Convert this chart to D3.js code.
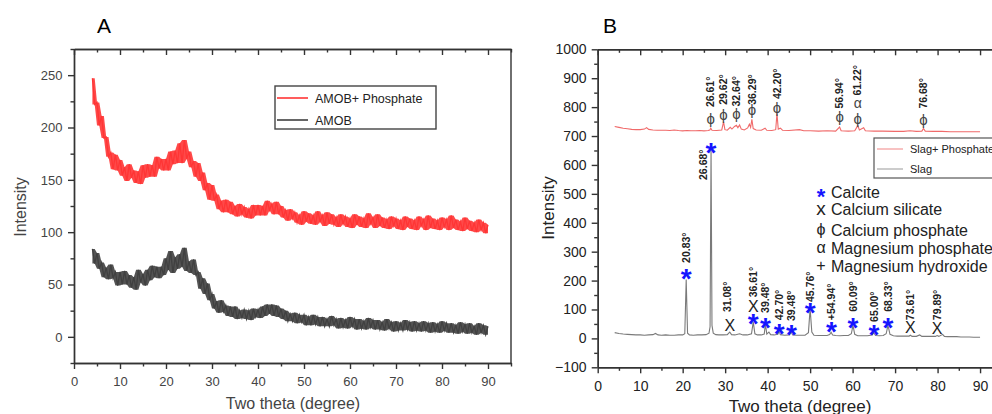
<!DOCTYPE html>
<html>
<head>
<meta charset="utf-8">
<script src="https://cdn.jsdelivr.net/npm/d3@7"></script>
<style>
  body { margin: 0; background: #fff; }
  text { font-family: "Liberation Sans", Arial, sans-serif; }
</style>
</head>
<body>
<div id="app"></div>
<script>
// ---- panel A : amorphous scans, 0.5 degree steps from 4 to 90 ----
const amobPhosphate = [
  247,222,224,202,211,190,191,172,176,160,174,159,169,154,162,149,165,152,159,147,
  158,146,164,152,165,153,164,153,172,161,170,159,170,159,177,165,178,166,185,166,
  188,170,177,162,168,153,166,149,157,140,147,131,145,130,136,122,130,119,131,119,
  129,117,125,115,127,117,124,114,122,113,126,116,126,116,125,116,130,121,127,117,
  129,117,125,114,121,111,122,113,119,109,116,107,120,110,118,108,116,107,120,110,
  116,106,119,108,117,107,114,105,117,108,115,105,113,104,117,107,115,105,113,104,
  118,108,114,104,117,106,114,104,112,103,115,106,113,103,111,102,115,105,113,103,
  111,102,115,106,112,102,116,104,113,103,111,102,114,105,112,102,116,104,112,102,
  110,101,114,103,111,101,109,100,112,102,109,99,107
];
const amob = [
  84,70,80,65,71,57,66,55,69,56,62,49,62,50,63,50,59,47,57,45,
  64,52,60,49,64,54,68,57,67,56,67,59,75,64,82,61,76,65,79,67,
  85,63,72,61,74,59,62,46,56,41,51,35,41,27,34,23,35,24,30,20,
  29,19,29,17,25,18,26,17,25,16,27,19,26,18,29,20,31,22,31,20,
  30,19,27,17,25,15,22,15,23,13,21,14,21,11,19,11,21,12,19,10,
  19,10,17,10,20,11,17,8,18,9,16,8,19,10,17,7,17,8,15,7,
  18,9,16,7,16,7,14,6,17,8,14,5,15,6,13,6,16,7,14,5,
  15,6,13,5,15,6,13,4,14,5,12,4,15,6,13,4,13,4,11,3,
  14,5,12,3,13,4,10,2,13,4,11,2,10
];
const thetaA = d3.range(4, 90.25, 0.5);

// ---- panel B : slag scans [two theta, intensity] ----
const slagScan = [[4,20],[5,17],[6,15],[7,14],[8,13],[9,12],[10,12],[11,11],[12,12],[13,13],[13.6,17],[14.2,12],[15,11],[16,12],[17,11],[18,11],[19,12],[20,12],[20.5,16],[20.83,204],[21.15,18],[21.6,12],[22.5,11],[23.5,12],[24.5,12],[25.5,13],[26.2,18],[26.45,40],[26.68,652],[26.9,45],[27.2,18],[27.8,13],[28.5,12],[29.5,12],[30.5,13],[31.08,22],[31.5,13],[32.3,12],[33.4,16],[34.2,12],[35.2,12],[36.2,16],[36.61,57],[37.0,16],[37.6,12],[38.5,12],[39.2,15],[39.48,50],[39.8,15],[40.3,22],[40.7,13],[41.5,12],[42.4,14],[42.7,26],[43.0,13],[44.0,11],[45.1,12],[45.5,23],[45.9,12],[46.8,11],[47.8,11],[48.8,11],[49.6,20],[50.0,103],[50.4,22],[50.9,11],[52,10],[53,10],[54,10],[54.6,13],[54.94,21],[55.3,12],[56,10],[57,9],[58,10],[59,10],[59.7,16],[60.09,45],[60.5,14],[61.2,9],[62.3,9],[63.5,9],[64.6,12],[65.0,20],[65.4,10],[66.3,9],[67.2,10],[67.9,16],[68.33,45],[68.8,14],[69.6,9],[70.5,8],[71.5,8],[72.5,8],[73.3,8],[73.61,11],[74.0,7],[75.0,7],[75.8,12],[76.3,7],[77.5,7],[78.5,7],[79.5,7],[79.89,10],[80.3,7],[81.2,14],[81.6,7],[82.3,6],[83.5,6],[84.5,6],[85.5,5],[86.5,5],[87.5,5],[88.5,4],[89.5,4],[90,4]];
const slagPhosphateScan = [[4,733],[5,730],[6,727],[7,725],[8,723],[9,722],[10,722],[11,724],[11.5,729],[12,723],[13,721],[14,720],[15,720],[16,720],[17,719],[18,721],[19,719],[20,718],[21,719],[22,718],[23,718],[24,719],[25,718],[26,719],[26.4,721],[26.61,727],[26.9,720],[28,719],[29.2,721],[29.62,749],[29.95,722],[30.5,720],[31.2,730],[31.6,724],[32.2,733],[32.64,737],[33.0,729],[33.4,738],[33.8,724],[34.5,721],[35.3,728],[35.7,741],[36.0,730],[36.29,758],[36.6,726],[37.3,721],[38.5,720],[39.4,727],[39.8,720],[41,719],[41.9,722],[42.2,778],[42.5,724],[43,727],[43.5,720],[45,719],[47.5,722],[48.5,718],[50,718],[52,717],[54,718],[56,717],[56.94,731],[57.3,718],[59,717],[60.5,718],[61.22,736],[61.6,721],[62.6,729],[63,718],[65,717],[67,717],[70,716],[72,716],[73.5,718],[75,716],[76.3,717],[76.68,726],[77.1,717],[79,716],[81,716],[83,715],[85,715],[87,715],[90,715]];

// peak annotations
const phosPeakTheta = [26.61, 29.62, 32.64, 36.29, 42.20, 56.94, 61.22, 76.68];
const phosPeakLabels = ["26.61°","29.62°","32.64°","36.29°","42.20°","56.94°","61.22°","76.68°"];
const phosMarkY = [761, 775, 778, 790, 799, 767, 761, 755];
const phosLabelY = [800, 808, 802, 808, 828, 795, 840, 795];
const slagPeakTheta = [20.83, 24.9, 30.6, 36.61, 39.48, 42.70, 45.6, 50.0, 55.0, 60.09, 65.0, 68.33, 73.61, 79.89];
const slagPeakLabels = ["20.83°","26.68°","31.08°","36.61°","39.48°","42.70°","39.48°","45.76°","+54.94°","60.09°","65.00°","68.33°","73.61°","79.89°"];
const slagLabelY = [261, 548, 91, 142, 88, 63, 60, 126, 63, 92, 57, 92, 63, 63];
const calciteTheta = [20.83, 26.68, 36.61, 39.48, 42.70, 45.6, 50.0, 55.0, 60.09, 65.0, 68.33];
const calciteY = [231, 666, 73, 61, 38, 35, 112, 46, 60, 37, 61];
const silicateTheta = [31.08, 36.61, 73.61, 79.89];
const silicateY = [46, 110, 38, 35];

const phaseSymbols = ["*", "x", "ϕ", "α", "+"];
const phaseNames = ["Calcite", "Calcium silicate", "Calcium phosphate", "Magnesium phosphate", "Magnesium hydroxide"];

const xTicks = [0, 10, 20, 30, 40, 50, 60, 70, 80, 90];
const xMinor = [5, 15, 25, 35, 45, 55, 65, 75, 85, 95];
const yTicksA = [0, 50, 100, 150, 200, 250];
const yMinorA = [-25, 25, 75, 125, 175, 225, 275];
const yTicksB = [-100, 0, 100, 200, 300, 400, 500, 600, 700, 800, 900, 1000];
const yMinorB = [-50, 50, 150, 250, 350, 450, 550, 650, 750, 850, 950];

const width = 992;
const height = 414;

const svg = d3.select('#app')
    .append('svg')
    .attr('width', width)
    .attr('height', height);

const frame = (x, y, yTicks, yMinor, col, rightSide) => {
    const g = svg.append('g');
    const [x0, x1] = x.range();
    const [y0, y1] = y.range();

    const bottom = g.append('g').attr('transform', `translate(0,${y0})`)
        .call(d3.axisBottom(x).tickValues(xTicks).tickSize(6).tickSizeOuter(0).tickFormat(d3.format('d')));
    g.append('g').attr('transform', `translate(0,${y0})`)
        .call(d3.axisBottom(x).tickValues(xMinor).tickSize(3.5).tickSizeOuter(0).tickFormat(''));
    g.append('g').attr('transform', `translate(0,${y1})`)
        .call(d3.axisBottom(x).tickValues(xTicks).tickSize(6).tickSizeOuter(0).tickFormat(''));
    g.append('g').attr('transform', `translate(0,${y1})`)
        .call(d3.axisBottom(x).tickValues(xMinor).tickSize(3.5).tickSizeOuter(0).tickFormat(''));
    const left = g.append('g').attr('transform', `translate(${x0},0)`)
        .call(d3.axisLeft(y).tickValues(yTicks).tickSize(6).tickSizeOuter(0).tickFormat(d3.format('d')));
    g.append('g').attr('transform', `translate(${x0},0)`)
        .call(d3.axisLeft(y).tickValues(yMinor).tickSize(3.5).tickSizeOuter(0).tickFormat(''));
    if (rightSide) {
        g.append('line').attr('x1', x1).attr('x2', x1).attr('y1', y0).attr('y2', y1);
    }
    g.selectAll('path.domain, line').attr('stroke', '#333').attr('stroke-width', 1.4);
    g.selectAll('.tick text').attr('fill', col);
    return { bottom, left };
};

// ---------------- A ----------------
const xA = d3.scaleLinear().domain([0, 95]).range([74, 511]);
const yA = d3.scaleLinear().domain([-25, 275]).range([363, 49]);

const lineA = d3.line()
    .x((d, i) => xA(thetaA[i]))
    .y(d => yA(d));

// noise band: local min / max of neighbouring counts
const bandA = d3.area()
    .x((d, i) => xA(thetaA[i]))
    .y0((d, i, arr) => yA(d3.min(arr.slice(Math.max(0, i - 1), i + 2))))
    .y1((d, i, arr) => yA(d3.max(arr.slice(Math.max(0, i - 1), i + 2))));

[[amob, '#404040'], [amobPhosphate, '#ff3535']].forEach(([series, color]) => {
    svg.append('path').datum(series)
        .attr('d', bandA).attr('fill', color).attr('fill-opacity', 0.9);
    svg.append('path').datum(series)
        .attr('d', lineA).attr('fill', 'none')
        .attr('stroke', color).attr('stroke-width', 1.3);
});

const axA = frame(xA, yA, yTicksA, yMinorA, '#444', true);
axA.bottom.selectAll('text').attr('font-size', 13).attr('dy', '1.1em');
axA.left.selectAll('text').attr('font-size', 13).attr('dx', '-0.2em');

svg.append('text').attr('x', 97).attr('y', 33).attr('font-size', 21).text('A');
svg.append('text')
    .attr('transform', 'translate(26,207) rotate(-90)')
    .attr('text-anchor', 'middle').attr('font-size', 16).attr('fill', '#444')
    .text('Intensity');
svg.append('text').attr('x', 293).attr('y', 409)
    .attr('text-anchor', 'middle').attr('font-size', 16).attr('fill', '#444')
    .text('Two theta (degree)');

const legA = svg.append('g');
legA.append('rect').attr('x', 275).attr('y', 86).attr('width', 161).attr('height', 43)
    .attr('fill', '#fff').attr('stroke', '#444').attr('stroke-width', 1.4);
legA.append('line').attr('x1', 277).attr('x2', 308).attr('y1', 98).attr('y2', 98)
    .attr('stroke', '#ff3535').attr('stroke-width', 1.6);
legA.append('line').attr('x1', 277).attr('x2', 308).attr('y1', 120).attr('y2', 120)
    .attr('stroke', '#404040').attr('stroke-width', 1.6);
legA.append('text').attr('x', 315).attr('y', 103).attr('font-size', 12.5).attr('fill', '#222').text('AMOB+ Phosphate');
legA.append('text').attr('x', 315).attr('y', 125).attr('font-size', 12.5).attr('fill', '#222').text('AMOB');

// ---------------- B ----------------
const xB = d3.scaleLinear().domain([0, 95]).range([597.7, 1001.3]);
const yB = d3.scaleLinear().domain([-100, 1000]).range([367.3, 49.3]);

const lineB = d3.line()
    .x(d => xB(d[0]))
    .y(d => yB(d[1]));

svg.append('path').datum(slagScan)
    .attr('d', lineB).attr('fill', 'none')
    .attr('stroke', '#7a7a7a').attr('stroke-width', 1.1);
svg.append('path').datum(slagPhosphateScan)
    .attr('d', lineB).attr('fill', 'none')
    .attr('stroke', '#f06a6a').attr('stroke-width', 1.1);

const axB = frame(xB, yB, yTicksB, yMinorB, '#222', false);
axB.bottom.selectAll('text').attr('font-size', 14).attr('dy', '1.05em');
axB.left.selectAll('text').attr('font-size', 14).attr('dx', '-0.15em');

svg.append('text').attr('x', 603).attr('y', 33).attr('font-size', 21).text('B');
svg.append('text')
    .attr('transform', 'translate(554,208) rotate(-90)')
    .attr('text-anchor', 'middle').attr('font-size', 17).attr('fill', '#222')
    .text('Intensity');
svg.append('text').attr('x', 800).attr('y', 412)
    .attr('text-anchor', 'middle').attr('font-size', 17).attr('fill', '#222')
    .text('Two theta (degree)');

// peak labels
const peakText = (thetas, labels, ys) => {
    svg.append('g').selectAll('text')
        .data(labels)
        .enter()
        .append('text')
        .attr('transform', (d, i) => `translate(${xB(thetas[i])},${yB(ys[i])}) rotate(-90)`)
        .attr('dy', '0.35em')
        .attr('font-size', 10.5)
        .attr('font-weight', 'bold')
        .attr('fill', '#222')
        .text(d => d);
};
peakText(phosPeakTheta, phosPeakLabels, phosLabelY);
peakText(slagPeakTheta, slagPeakLabels, slagLabelY);

// phi markers for calcium phosphate
svg.append('g').selectAll('text')
    .data(phosPeakTheta)
    .enter()
    .append('text')
    .attr('x', d => xB(d))
    .attr('y', (d, i) => yB(phosMarkY[i]))
    .attr('dy', '0.35em')
    .attr('text-anchor', 'middle')
    .attr('font-family', '"DejaVu Serif", serif')
    .attr('font-size', 15)
    .attr('fill', '#444')
    .text('ϕ');
svg.append('text')
    .attr('x', xB(61.22)).attr('y', yB(813)).attr('dy', '0.3em')
    .attr('text-anchor', 'middle')
    .attr('font-family', '"DejaVu Serif", serif')
    .attr('font-size', 14).attr('fill', '#444')
    .text('α');

// calcite stars
svg.append('g').selectAll('text')
    .data(calciteTheta)
    .enter()
    .append('text')
    .attr('x', d => xB(d))
    .attr('y', (d, i) => yB(calciteY[i]) + 16)
    .attr('text-anchor', 'middle')
    .attr('font-size', 28)
    .attr('font-weight', 'bold')
    .attr('fill', '#1414ff')
    .text('*');

// calcium silicate
svg.append('g').selectAll('text')
    .data(silicateTheta)
    .enter()
    .append('text')
    .attr('x', d => xB(d))
    .attr('y', (d, i) => yB(silicateY[i]))
    .attr('dy', '0.35em')
    .attr('text-anchor', 'middle')
    .attr('font-family', '"Liberation Serif", serif')
    .attr('font-size', 16)
    .attr('fill', '#222')
    .text('X');

// series legend
const legB = svg.append('g');
legB.append('rect').attr('x', 874).attr('y', 138).attr('width', 140).attr('height', 40)
    .attr('fill', '#fff').attr('stroke', '#555').attr('stroke-width', 1.2);
legB.append('line').attr('x1', 877).attr('x2', 903).attr('y1', 149).attr('y2', 149)
    .attr('stroke', '#f49a9a').attr('stroke-width', 1.2);
legB.append('line').attr('x1', 877).attr('x2', 903).attr('y1', 169).attr('y2', 169)
    .attr('stroke', '#aaa').attr('stroke-width', 1.2);
legB.append('text').attr('x', 910).attr('y', 153).attr('font-size', 11).attr('fill', '#222').text('Slag+ Phosphate');
legB.append('text').attr('x', 910).attr('y', 173).attr('font-size', 11).attr('fill', '#222').text('Slag');

// phase legend
const phaseY = [192, 209, 230, 248, 266];
const phase = svg.append('g').selectAll('g')
    .data(phaseNames)
    .enter()
    .append('g')
    .attr('transform', (d, i) => `translate(0,${phaseY[i]})`);
phase.append('text')
    .attr('x', 821)
    .attr('y', (d, i) => i === 0 ? 12 : 0)
    .attr('dy', (d, i) => i === 0 ? 0 : '0.33em')
    .attr('text-anchor', 'middle')
    .attr('font-family', (d, i) => (i === 0 || i === 4) ? '"Liberation Sans", Arial' : '"Liberation Serif", serif')
    .attr('font-weight', (d, i) => i === 0 ? 'bold' : 'normal')
    .attr('font-size', (d, i) => i === 0 ? 22 : (i === 1 ? 19 : 16))
    .attr('fill', (d, i) => i === 0 ? '#1414ff' : '#222')
    .text((d, i) => phaseSymbols[i]);
phase.append('text')
    .attr('x', 831)
    .attr('dy', '0.35em')
    .attr('font-size', 16)
    .attr('fill', '#222')
    .text(d => d);
</script>
</body>
</html>
